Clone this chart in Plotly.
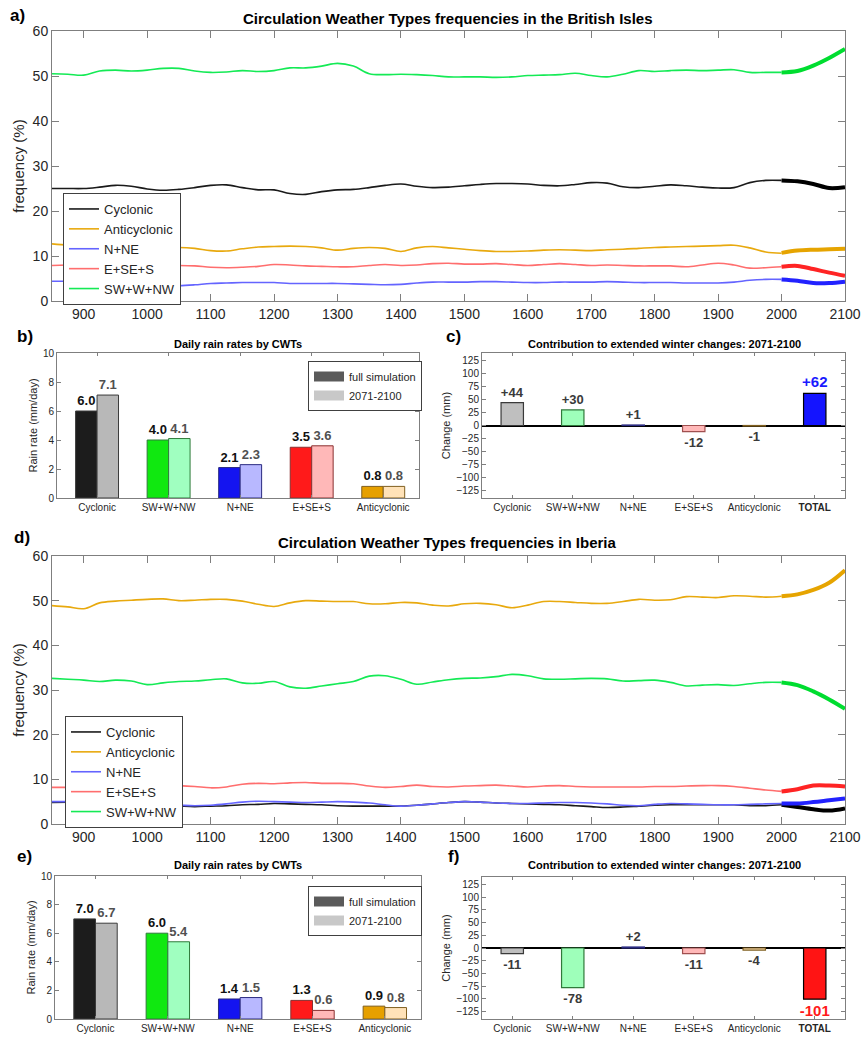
import plotly.graph_objects as go

W, H = 865, 1038
FONT = "Liberation Sans, Arial, Helvetica, sans-serif"
FRAME = "#7f7f7f"
TXT = "#262626"

# ---------------- data ----------------
YEARS_HIST = list(range(850, 2001, 25))
YEARS_FUT = [2000, 2025, 2050, 2075, 2100]
SERIES = ["Cyclonic", "Anticyclonic", "N+NE", "E+SE+S", "SW+W+NW"]

# British Isles (panel a)
BI_CYC = [25.0, 25.0, 25.0, 25.3, 25.7, 25.5, 24.9, 24.6, 24.8, 25.2, 25.7, 25.8, 25.2, 24.7, 24.7, 23.9,
          23.7, 24.3, 24.7, 24.8, 25.2, 25.7, 26.0, 25.5, 25.2, 25.3, 25.6, 25.9, 26.1, 26.1, 26.0, 25.7,
          25.6, 25.9, 26.3, 26.2, 25.4, 25.2, 25.5, 25.8, 25.6, 25.3, 25.1, 25.2, 26.3, 26.8, 26.8]
BI_ANT = [12.7, 12.4, 12.2, 12.0, 11.9, 11.8, 11.7, 11.8, 11.9, 11.7, 11.2, 11.1, 11.6, 12.0, 12.1, 12.2,
          12.1, 11.8, 11.3, 11.7, 11.9, 11.7, 11.0, 11.8, 12.1, 11.8, 11.5, 11.2, 11.0, 11.0, 11.1, 11.3,
          11.4, 11.3, 11.2, 11.4, 11.5, 11.7, 11.9, 12.0, 12.1, 12.2, 12.3, 12.4, 11.8, 10.9, 10.6]
BI_NNE = [4.4, 4.4, 4.4, 4.3, 4.1, 3.9, 3.7, 3.4, 3.4, 3.6, 3.9, 4.0, 4.1, 4.1, 4.1, 3.9,
          3.9, 3.9, 3.9, 3.8, 3.7, 3.6, 3.7, 4.0, 4.2, 4.2, 4.2, 4.3, 4.3, 4.2, 4.1, 4.1,
          4.2, 4.2, 4.2, 4.3, 4.2, 4.1, 4.1, 4.1, 4.0, 4.0, 4.0, 4.2, 4.6, 4.8, 4.8]
BI_ESS = [7.9, 8.0, 8.1, 8.1, 8.0, 7.9, 7.9, 7.9, 7.9, 7.8, 7.5, 7.4, 7.5, 7.7, 8.1, 8.0,
          7.8, 7.7, 7.6, 7.6, 7.9, 8.1, 7.9, 8.0, 8.3, 8.4, 8.2, 8.2, 8.3, 8.1, 7.9, 8.1,
          8.3, 8.1, 7.9, 8.0, 7.9, 7.8, 7.8, 7.8, 7.6, 8.0, 8.4, 8.0, 7.3, 7.4, 7.6]
BI_SWW = [50.5, 50.4, 50.2, 51.1, 51.3, 51.1, 51.3, 51.7, 51.7, 51.1, 50.8, 50.9, 51.2, 51.0, 51.2, 51.8,
          51.8, 52.2, 52.8, 52.2, 50.5, 50.3, 50.4, 50.3, 50.1, 49.8, 49.8, 49.8, 49.7, 49.8, 50.1, 50.2,
          50.3, 50.6, 50.1, 49.8, 50.4, 51.2, 51.0, 51.2, 51.3, 51.2, 51.3, 51.4, 50.8, 50.8, 50.8]
BI_CYC_FUT = [26.8, 26.6, 26.0, 25.1, 25.3]
BI_ANT_FUT = [10.7, 11.2, 11.4, 11.5, 11.6]
BI_NNE_FUT = [4.8, 4.5, 4.0, 4.0, 4.3]
BI_ESS_FUT = [7.6, 7.8, 7.1, 6.3, 5.6]
BI_SWW_FUT = [50.8, 51.1, 52.3, 54.0, 56.0]

# Iberia (panel d)
IB_CYC = [4.8, 4.9, 5.0, 4.9, 4.7, 4.6, 4.4, 4.1, 4.0, 3.9, 4.0, 4.1, 4.3, 4.4, 4.6, 4.5,
          4.4, 4.3, 4.1, 4.0, 4.0, 4.0, 4.0, 4.2, 4.5, 4.8, 5.0, 4.9, 4.7, 4.6, 4.5, 4.4,
          4.3, 4.1, 3.9, 3.7, 3.8, 4.0, 4.2, 4.3, 4.3, 4.3, 4.3, 4.3, 4.1, 4.1, 4.3]
IB_ANT = [48.9, 48.6, 48.2, 49.5, 49.9, 50.1, 50.3, 50.4, 50.0, 50.1, 50.3, 50.3, 49.9, 49.2, 48.7, 49.5,
          50.0, 49.9, 49.8, 49.8, 49.3, 49.3, 49.6, 49.5, 49.0, 48.8, 49.3, 49.4, 49.1, 48.4, 49.0, 49.8,
          49.8, 49.6, 49.4, 49.4, 49.8, 50.3, 50.1, 50.2, 50.9, 50.8, 50.7, 51.1, 51.0, 50.8, 51.0]
IB_NNE = [5.0, 5.0, 5.0, 4.9, 4.7, 4.6, 4.4, 4.3, 4.2, 4.1, 4.2, 4.5, 4.9, 5.1, 5.0, 4.9,
          4.8, 4.9, 5.0, 4.9, 4.7, 4.3, 4.0, 4.2, 4.5, 4.8, 5.0, 4.9, 4.7, 4.6, 4.6, 4.7,
          4.8, 4.8, 4.7, 4.5, 4.2, 4.1, 4.4, 4.6, 4.5, 4.4, 4.3, 4.3, 4.4, 4.5, 4.6]
IB_ESS = [8.2, 8.2, 8.2, 8.3, 8.4, 8.4, 8.5, 8.7, 8.6, 8.4, 8.1, 8.3, 8.9, 9.1, 9.0, 9.2,
          9.3, 9.1, 9.1, 9.0, 8.5, 8.2, 8.4, 8.7, 8.4, 8.3, 8.5, 8.6, 8.7, 8.5, 8.3, 8.5,
          8.6, 8.4, 8.3, 8.3, 8.3, 8.3, 8.4, 8.4, 8.5, 8.6, 8.6, 8.4, 8.0, 7.6, 7.3]
IB_SWW = [32.6, 32.4, 32.2, 31.9, 32.2, 32.0, 31.2, 31.6, 31.9, 32.0, 32.3, 32.5, 31.6, 31.5, 31.9, 30.7,
          30.4, 30.9, 31.4, 31.9, 33.1, 33.2, 32.4, 31.3, 31.8, 32.3, 32.6, 32.7, 33.0, 33.5, 33.2, 32.5,
          32.4, 32.5, 32.6, 32.5, 32.0, 32.1, 32.2, 31.7, 30.9, 31.1, 31.2, 31.0, 31.4, 31.7, 31.7]
IB_CYC_FUT = [4.3, 3.8, 3.3, 3.0, 3.5]
IB_ANT_FUT = [51.0, 51.4, 52.4, 54.0, 56.8]
IB_NNE_FUT = [4.6, 4.6, 4.9, 5.3, 5.7]
IB_ESS_FUT = [7.3, 7.8, 8.6, 8.6, 8.4]
IB_SWW_FUT = [31.7, 31.1, 29.7, 27.9, 25.8]

# Rain rates (panels b, e)
RATE_CATS = ["Cyclonic", "SW+W+NW", "N+NE", "E+SE+S", "Anticyclonic"]
BI_RATE_FULL = [6.0, 4.0, 2.1, 3.5, 0.8]
BI_RATE_FUT = [7.1, 4.1, 2.3, 3.6, 0.8]
IB_RATE_FULL = [7.0, 6.0, 1.4, 1.3, 0.9]
IB_RATE_FUT = [6.7, 5.4, 1.5, 0.6, 0.8]

# Contributions (panels c, f)
CONTRIB_CATS = ["Cyclonic", "SW+W+NW", "N+NE", "E+SE+S", "Anticyclonic", "TOTAL"]
BI_CONTRIB = [44, 30, 1, -12, -1, 62]
IB_CONTRIB = [-11, -78, 2, -11, -4, -101]

# ---------------- styles ----------------
LINE_THIN = {"Cyclonic": "#1a1a1a", "Anticyclonic": "#e8a90e", "N+NE": "#6464ff",
             "E+SE+S": "#ff6e6e", "SW+W+NW": "#14ea55"}
LINE_THICK = {"Cyclonic": "#000000", "Anticyclonic": "#e6a400", "N+NE": "#2222ff",
              "E+SE+S": "#ff2424", "SW+W+NW": "#00dd30"}
RATE_DARK = ["#1c1c1c", "#10e810", "#1414f0", "#ff1a1a", "#e6a000"]
RATE_LIGHT = ["#b8b8b8", "#a0ffc0", "#b8b8ff", "#ffb8b8", "#ffe2b8"]
RATE_EDGE = ["#3a3a3a", "#2f7a3a", "#2a2a80", "#8a3030", "#806020"]
CONTRIB_EDGE = ["#3a3a3a", "#2f7a3a", "#2a2a80", "#a05050", "#806020", "#000000"]


def dx(l, r):
    return [l / W, r / W]


def dy(t, b):
    return [1 - b / H, 1 - t / H]


def axis(size=14, ticklen=7, **kw):
    d = dict(showline=True, linecolor=FRAME, linewidth=1, mirror="ticks", ticks="inside",
             ticklen=ticklen, tickcolor=FRAME, showgrid=False, zeroline=False, automargin=False,
             tickfont=dict(family=FONT, size=size, color=TXT))
    d.update(kw)
    return d


fig = go.Figure()


def add_timeseries(xa, ya, legend, hist, fut):
    for name, vals in zip(SERIES, hist):
        fig.add_trace(go.Scatter(x=YEARS_HIST, y=vals, mode="lines", name=name,
                                 line=dict(color=LINE_THIN[name], width=1.6, shape="spline"),
                                 xaxis=xa, yaxis=ya, legend=legend, hoverinfo="skip"))
    for name, vals in zip(SERIES, fut):
        fig.add_trace(go.Scatter(x=YEARS_FUT, y=vals, mode="lines", name=name, showlegend=False,
                                 line=dict(color=LINE_THICK[name], width=4, shape="spline"),
                                 xaxis=xa, yaxis=ya, hoverinfo="skip"))


add_timeseries("x", "y", "legend",
               [BI_CYC, BI_ANT, BI_NNE, BI_ESS, BI_SWW],
               [BI_CYC_FUT, BI_ANT_FUT, BI_NNE_FUT, BI_ESS_FUT, BI_SWW_FUT])
add_timeseries("x4", "y4", "legend2",
               [IB_CYC, IB_ANT, IB_NNE, IB_ESS, IB_SWW],
               [IB_CYC_FUT, IB_ANT_FUT, IB_NNE_FUT, IB_ESS_FUT, IB_SWW_FUT])


def add_rates(xa, ya, legend, full, fut):
    fig.add_trace(go.Bar(x=RATE_CATS, y=full, offset=-0.3, width=0.3, showlegend=False,
                         marker=dict(color=RATE_DARK, line=dict(color=RATE_EDGE, width=1)),
                         text=[f"{v:.1f}" for v in full], textposition="outside", cliponaxis=False,
                         constraintext="none",
                         textfont=dict(family=FONT, size=13, color="#111111", weight="bold"),
                         xaxis=xa, yaxis=ya, hoverinfo="skip"))
    fig.add_trace(go.Bar(x=RATE_CATS, y=fut, offset=0.0, width=0.3, showlegend=False,
                         marker=dict(color=RATE_LIGHT, line=dict(color=RATE_EDGE, width=1)),
                         text=[f"{v:.1f}" for v in fut], textposition="outside", cliponaxis=False,
                         constraintext="none",
                         textfont=dict(family=FONT, size=13, color="#505050", weight="bold"),
                         xaxis=xa, yaxis=ya, hoverinfo="skip"))
    # legend swatches (wide gray rectangles as in the original)
    fig.add_trace(go.Scatter(x=[None], y=[None], mode="lines", name="full simulation", legend=legend,
                             line=dict(color="#5a5a5a", width=10), xaxis=xa, yaxis=ya))
    fig.add_trace(go.Scatter(x=[None], y=[None], mode="lines", name="2071-2100", legend=legend,
                             line=dict(color="#c8c8c8", width=10), xaxis=xa, yaxis=ya))


add_rates("x2", "y2", "legend3", BI_RATE_FULL, BI_RATE_FUT)
add_rates("x5", "y5", "legend4", IB_RATE_FULL, IB_RATE_FUT)


def add_contrib(xa, ya, vals, total_fill, total_text):
    fills = ["#bfbfbf", "#9effba", "#b8b8ff", "#ffb8b8", "#ffe2b8", total_fill]
    fig.add_trace(go.Bar(x=CONTRIB_CATS, y=vals, width=0.37, showlegend=False,
                         marker=dict(color=fills, line=dict(color=CONTRIB_EDGE, width=1.2)),
                         text=[f"{v:+d}" for v in vals], textposition="outside", cliponaxis=False,
                         constraintext="none",
                         textfont=dict(family=FONT, size=[13] * 5 + [15],
                                       color=["#3a3a3a"] * 5 + [total_text], weight="bold"),
                         xaxis=xa, yaxis=ya, hoverinfo="skip"))


add_contrib("x3", "y3", BI_CONTRIB, "#1414ff", "#1a1aff")
add_contrib("x6", "y6", IB_CONTRIB, "#ff1414", "#ff1a1a")

# ---------------- layout ----------------
TS_X = dict(range=[850, 2100], tickvals=list(range(900, 2101, 100)))
TS_Y = dict(range=[0, 60], tickvals=list(range(0, 61, 10)),
            title=dict(text="frequency (%)", font=dict(family=FONT, size=15, color=TXT), standoff=4))
CAT_TICKTEXT = [f"<b>{c}</b>" if c == "TOTAL" else c for c in CONTRIB_CATS]

layout = dict(
    width=W, height=H, autosize=False, margin=dict(l=0, r=0, t=0, b=0, pad=0),
    paper_bgcolor="white", plot_bgcolor="white", barmode="overlay", showlegend=True,
    font=dict(family=FONT, color=TXT),
    xaxis=axis(domain=dx(52, 845), anchor="y", **TS_X),
    yaxis=axis(domain=dy(31, 301), anchor="x", **TS_Y),
    xaxis4=axis(domain=dx(52, 845), anchor="y4", **TS_X),
    yaxis4=axis(domain=dy(556, 824), anchor="x4", **TS_Y),
    xaxis2=axis(size=10, ticklen=3, domain=dx(57, 419), anchor="y2", range=[-0.56, 4.5],
                categoryorder="array", categoryarray=RATE_CATS),
    yaxis2=axis(size=10, ticklen=4, domain=dy(353, 498), anchor="x2", range=[0, 10], dtick=2,
                title=dict(text="Rain rate (mm/day)", font=dict(family=FONT, size=11, color=TXT), standoff=3)),
    xaxis5=axis(size=10, ticklen=3, domain=dx(55, 421), anchor="y5", range=[-0.56, 4.5],
                categoryorder="array", categoryarray=RATE_CATS),
    yaxis5=axis(size=10, ticklen=4, domain=dy(876, 1019), anchor="x5", range=[0, 10], dtick=2,
                title=dict(text="Rain rate (mm/day)", font=dict(family=FONT, size=11, color=TXT), standoff=3)),
    xaxis3=axis(size=10, ticklen=3, domain=dx(482, 845), anchor="y3", range=[-0.5, 5.5],
                tickvals=CONTRIB_CATS, ticktext=CAT_TICKTEXT),
    yaxis3=axis(size=10, ticklen=4, domain=dy(353, 498), anchor="x3", range=[-140, 140],
                tickvals=list(range(-125, 126, 25)), zeroline=True, zerolinecolor="black", zerolinewidth=2,
                title=dict(text="Change (mm)", font=dict(family=FONT, size=11, color=TXT), standoff=3)),
    xaxis6=axis(size=10, ticklen=3, domain=dx(482, 845), anchor="y6", range=[-0.5, 5.5],
                tickvals=CONTRIB_CATS, ticktext=CAT_TICKTEXT),
    yaxis6=axis(size=10, ticklen=4, domain=dy(877, 1019), anchor="x6", range=[-140, 140],
                tickvals=list(range(-125, 126, 25)), zeroline=True, zerolinecolor="black", zerolinewidth=2,
                title=dict(text="Change (mm)", font=dict(family=FONT, size=11, color=TXT), standoff=3)),
)


def leg(x, y, size):
    return dict(x=x / W, y=1 - y / H, xanchor="left", yanchor="top", xref="paper", yref="paper",
                bgcolor="white", bordercolor="#404040", borderwidth=1,
                font=dict(family=FONT, size=size, color=TXT), itemwidth=30, tracegroupgap=0)


layout["legend"] = leg(63, 193, 13)
layout["legend2"] = leg(65, 716, 13)
layout["legend3"] = leg(308, 361, 11)
layout["legend4"] = leg(308, 886, 11)


def ann(text, x, y, size, xanchor="center", bold=True, color="black"):
    return dict(text=f"<b>{text}</b>" if bold else text, x=x / W, y=1 - y / H, xref="paper", yref="paper",
                showarrow=False, xanchor=xanchor, yanchor="middle",
                font=dict(family=FONT, size=size, color=color))


layout["annotations"] = [
    ann("a)", 8, 15, 17, "left"),
    ann("Circulation Weather Types frequencies in the British Isles", 448, 18, 15),
    ann("b)", 15, 336, 17, "left"),
    ann("Daily rain rates by CWTs", 238, 344, 11),
    ann("c)", 444, 337, 17, "left"),
    ann("Contribution to extended winter changes: 2071-2100", 664, 344, 11),
    ann("d)", 12, 537, 17, "left"),
    ann("Circulation Weather Types frequencies in Iberia", 448, 542, 15),
    ann("e)", 15, 856, 17, "left"),
    ann("Daily rain rates by CWTs", 238, 865, 11),
    ann("f)", 446, 856, 17, "left"),
    ann("Contribution to extended winter changes: 2071-2100", 664, 865, 11),
]

fig.update_layout(**layout)
fig.write_html("out.html", config={"displayModeBar": False},
               post_script="document.body.style.margin='0';document.body.style.overflow='hidden';")
